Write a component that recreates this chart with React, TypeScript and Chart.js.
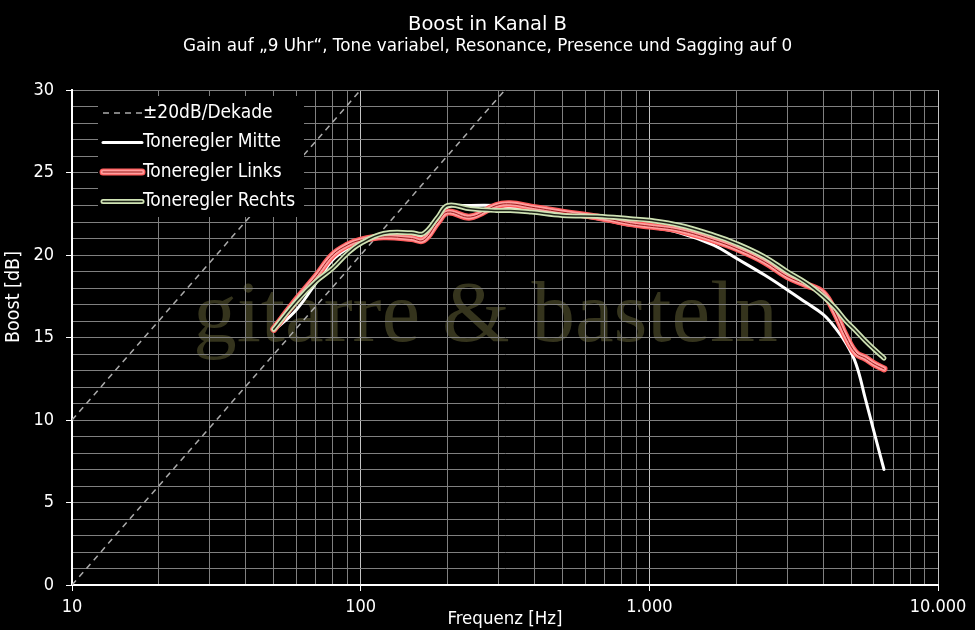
import { useEffect, useRef } from 'react';
import { Chart, registerables } from 'chart.js';

Chart.register(...registerables);

const FONT = '"DejaVu Sans Condensed", "DejaVu Sans", sans-serif';
const FONT_WIDE = '"DejaVu Sans", sans-serif';

const chartTitle = 'Boost in Kanal B';
const chartSubtitle =
  'Gain auf \u201E9 Uhr\u201C, Tone variabel, Resonance, Presence und Sagging auf 0';

// frequencies in Hz, boost in dB
const frequencies = [
  50, 60, 70, 80, 90, 100, 120, 150, 165, 185, 200, 240, 295, 330, 390, 500,
  660, 860, 1000, 1270, 1670, 2000, 2500, 3000, 3500, 4000, 4400, 4800, 5200,
  5600, 6000, 6500,
];
const mitte = [
  15.4, 16.7, 18.3, 19.7, 20.4, 20.8, 21.2, 21.2, 21.1, 22.2, 22.9, 23.0, 23.0,
  22.9, 22.75, 22.45, 22.2, 21.8, 21.7, 21.35, 20.6, 19.8, 18.8, 17.9, 17.1,
  16.4, 15.6, 14.65, 13.4, 11.3, 9.3, 7.0,
];
const links = [
  15.5, 17.3, 18.7, 20.0, 20.6, 20.9, 21.1, 21.0, 20.9, 22.0, 22.6, 22.3, 23.0,
  23.1, 22.9, 22.6, 22.3, 21.9, 21.75, 21.5, 20.9, 20.4, 19.6, 18.7, 18.2, 17.7,
  16.5, 15.05, 14.05, 13.75, 13.4, 13.1,
];
const rechts = [
  15.5, 17.2, 18.4, 19.2, 20.1, 20.7, 21.3, 21.35, 21.3, 22.3, 23.0, 22.8, 22.7,
  22.7, 22.6, 22.4, 22.35, 22.2, 22.1, 21.8, 21.2, 20.7, 19.9, 19.0, 18.3, 17.5,
  16.8, 16.0, 15.4, 14.8, 14.3, 13.75,
];

// ±20 dB/decade reference lines
const slopeUpper = [
  { x: 10, y: 10 },
  { x: 100, y: 30 },
];
const slopeLower = [
  { x: 10, y: 0 },
  { x: 316.23, y: 30 },
];

const decades = [10, 100, 1000, 10000];
const decadeLabels = ['10', '100', '1.000', '10.000'];

const legendLabels = [
  '±20dB/Dekade',
  'Toneregler Mitte',
  'Toneregler Links',
  'Toneregler Rechts',
];

const gridFreqs: number[] = [];
decades.slice(0, 3).forEach((d) => {
  for (let m = 1; m < 10; m++) gridFreqs.push(d * m);
});
gridFreqs.push(10000);

const toPoints = (values: number[]) =>
  frequencies.map((f, i) => ({ x: f, y: values[i] }));

const curve = (values: number[], color: string, width: number, order: number) => ({
  data: toPoints(values),
  borderColor: color,
  borderWidth: width,
  order,
  pointRadius: 0,
  fill: false,
  tension: 0.4,
  borderCapStyle: 'round' as const,
  borderJoinStyle: 'round' as const,
});

const isDecade = (v: number) => decades.some((d) => Math.abs(d - v) < 1e-6);

const backgroundPlugin = {
  id: 'backdrop',
  beforeDraw(chart: Chart) {
    const { ctx, width, height } = chart;
    ctx.save();
    ctx.fillStyle = '#000';
    ctx.fillRect(0, 0, width, height);

    // watermark
    ctx.font = '87px "Liberation Serif", serif';
    ctx.fillStyle = '#35341d';
    ctx.textAlign = 'center';
    ctx.textBaseline = 'alphabetic';
    ctx.fillText('gitarre & basteln', 485.5, 341);

    // titles
    ctx.fillStyle = '#fff';
    ctx.textBaseline = 'middle';
    ctx.font = `19.5px ${FONT_WIDE}`;
    ctx.fillText(chartTitle, width / 2, 24.7);
    ctx.font = `16.8px ${FONT_WIDE}`;
    ctx.fillText(chartSubtitle, width / 2, 46.5);

    // y axis title
    ctx.translate(13.5, 297);
    ctx.rotate(-Math.PI / 2);
    ctx.font = `19.5px ${FONT}`;
    ctx.fillText('Boost [dB]', 0, 0);
    ctx.restore();
  },
};

const legendPlugin = {
  id: 'boxLegend',
  afterDraw(chart: Chart) {
    const { ctx, chartArea } = chart;
    const left = chartArea.left + 26;
    const top = chartArea.top + 6;
    ctx.save();
    ctx.fillStyle = '#000';
    ctx.fillRect(left, top, 206, 121);
    const x0 = left + 5;
    const x1 = left + 44;
    const rows = [17, 46.5, 76, 105.5].map((r) => top + r);
    const stroke = (y: number, color: string, w: number, dash: number[] = []) => {
      ctx.beginPath();
      ctx.setLineDash(dash);
      ctx.strokeStyle = color;
      ctx.lineWidth = w;
      ctx.lineCap = dash.length ? 'butt' : 'round';
      ctx.moveTo(x0, y);
      ctx.lineTo(x1, y);
      ctx.stroke();
    };
    stroke(rows[0], '#ababab', 1.5, [6, 5]);
    stroke(rows[1], '#ffffff', 3);
    stroke(rows[2], '#ff5c5c', 7);
    stroke(rows[2], '#ff9e9e', 4.5);
    stroke(rows[2], '#9a1c1c', 1);
    stroke(rows[3], '#cfe2b4', 5);
    stroke(rows[3], '#1e2418', 1.5);
    ctx.setLineDash([]);
    ctx.fillStyle = '#fff';
    ctx.font = `19px ${FONT}`;
    ctx.textAlign = 'left';
    ctx.textBaseline = 'middle';
    legendLabels.forEach((t, i) => ctx.fillText(t, x1 + 1, rows[i]));
    ctx.restore();
  },
};

export default function App() {
  const canvasRef = useRef<HTMLCanvasElement>(null);
  const chartRef = useRef<Chart | null>(null);

  useEffect(() => {
    if (!canvasRef.current) return;
    const ctx = canvasRef.current.getContext('2d');
    if (!ctx) return;
    if (chartRef.current) chartRef.current.destroy();

    const dash = {
      borderColor: '#ababab',
      borderWidth: 1.5,
      borderDash: [6, 5],
      pointRadius: 0,
      fill: false,
      order: 20,
    };

    chartRef.current = new Chart(ctx, {
      type: 'line',
      data: {
        datasets: [
          { ...dash, data: slopeUpper },
          { ...dash, data: slopeLower },
          curve(mitte, '#ffffff', 3, 15),
          curve(links, '#ff5c5c', 7, 12),
          curve(links, '#ff9e9e', 4.5, 11),
          curve(links, '#9a1c1c', 1, 10),
          curve(rechts, '#cfe2b4', 5, 8),
          curve(rechts, '#1e2418', 1.5, 7),
        ] as any,
      },
      options: {
        responsive: false,
        animation: false,
        parsing: false,
        layout: { padding: { left: 0, right: 37, top: 90, bottom: 0 } },
        plugins: {
          legend: { display: false },
          tooltip: { enabled: false },
        },
        scales: {
          x: {
            type: 'logarithmic',
            min: 10,
            max: 10000,
            afterBuildTicks: (axis: any) => {
              axis.ticks = gridFreqs.map((v) => ({ value: v, major: isDecade(v) }));
            },
            afterFit: (axis: any) => {
              axis.height = 45;
            },
            grid: {
              color: (c: any) => (c.tick && isDecade(c.tick.value) ? '#c4c4c4' : '#808080'),
              tickColor: (c: any) => (c.tick && isDecade(c.tick.value) ? '#fff' : 'rgba(0,0,0,0)'),
              tickLength: 6,
              lineWidth: 1,
            },
            border: { color: '#fff', width: 2 },
            ticks: {
              color: '#fff',
              font: { family: FONT, size: 18 },
              padding: 6,
              autoSkip: false,
              maxRotation: 0,
              callback: (v: any) => {
                const i = decades.findIndex((d) => Math.abs(d - Number(v)) < 1e-6);
                return i >= 0 ? decadeLabels[i] : '';
              },
            },
            title: {
              display: true,
              text: 'Frequenz [Hz]',
              color: '#fff',
              font: { family: FONT, size: 18.5 },
              padding: { top: 0, bottom: 0 },
            },
          },
          y: {
            min: 0,
            max: 30,
            afterFit: (axis: any) => {
              axis.width = 72;
            },
            grid: {
              color: '#808080',
              tickColor: (c: any) => (c.tick && c.tick.value % 5 === 0 ? '#fff' : 'rgba(0,0,0,0)'),
              tickLength: 6,
              lineWidth: 1,
            },
            border: { color: '#fff', width: 2 },
            ticks: {
              stepSize: 1,
              autoSkip: false,
              color: '#fff',
              font: { family: FONT, size: 18 },
              padding: 12,
              callback: (v: any) => (Number(v) % 5 === 0 ? String(v) : ''),
            },
          },
        },
      },
      plugins: [backgroundPlugin, legendPlugin],
    });

    return () => {
      if (chartRef.current) {
        chartRef.current.destroy();
        chartRef.current = null;
      }
    };
  }, []);

  return (
    <div style={{ position: 'fixed', left: 0, top: 0, width: 975, height: 630, background: '#000' }}>
      <canvas ref={canvasRef} width={975} height={630} style={{ display: 'block' }} />
    </div>
  );
}
